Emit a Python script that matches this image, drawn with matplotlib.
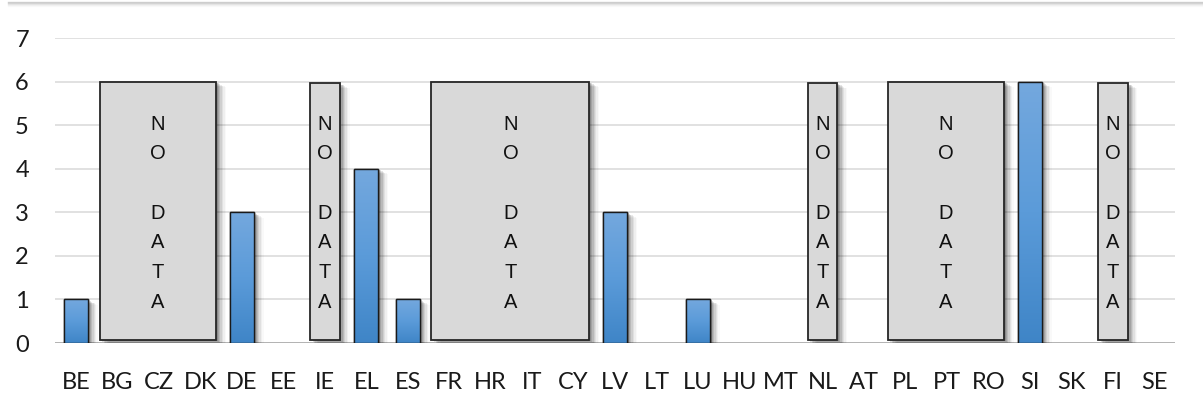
import numpy as np
import matplotlib
matplotlib.use("Agg")
import matplotlib.pyplot as plt
from matplotlib import patheffects as pe
from matplotlib.patches import Rectangle
from matplotlib.colors import LinearSegmentedColormap

categories = ["BE", "BG", "CZ", "DK", "DE", "EE", "IE", "EL", "ES", "FR", "HR", "IT", "CY",
              "LV", "LT", "LU", "HU", "MT", "NL", "AT", "PL", "PT", "RO", "SI", "SK", "FI", "SE"]
values = [1, 0, 0, 0, 3, 0, 0, 4, 1, 0, 0, 0, 0,
          3, 0, 1, 0, 0, 0, 0, 0, 0, 0, 6, 0, 0, 0]
# "NO DATA" annotation boxes: (first category, last category)
no_data_groups = [("BG", "DK"), ("IE", "IE"), ("FR", "CY"), ("NL", "NL"), ("PL", "RO"), ("FI", "FI")]
no_data_label = "N\nO\n\nD\nA\nT\nA"
yticks = [0, 1, 2, 3, 4, 5, 6, 7]

fig = plt.figure(figsize=(12.03, 4.03), dpi=100)
ax = fig.add_axes([55.3 / 1203, 60 / 403, (1175 - 55.3) / 1203, (343 - 38.3) / 403])

x = np.arange(len(categories))
ax.set_xlim(-0.5, len(categories) - 0.5)
ax.set_ylim(0, 7)

def shadow_effects(scale=1.0):
    effs = []
    for off, a in [(1, 0.14), (2, 0.12), (3, 0.10), (4, 0.08), (5, 0.06), (6, 0.04), (7, 0.025)]:
        effs.append(pe.SimplePatchShadow(offset=(off * scale, -off * 0.55 * scale),
                                         shadow_rgbFace="black", alpha=a))
    effs.append(pe.Normal())
    return effs

# grid
for t in yticks[1:]:
    ax.axhline(t, color="#d9d9d9", lw=1.1, zorder=0)
ax.axhline(0, color="#a6a6a6", lw=1.2, zorder=1)

# bars with gradient
cmap = LinearSegmentedColormap.from_list("blu", ["#3f85c7", "#5b9bd9", "#74a8de"])
grad = np.linspace(0, 1, 256).reshape(-1, 1)
bars = ax.bar(x, values, width=0.58, color="#5b9bd5", edgecolor="#1a1a1a", linewidth=1.0, zorder=3)
for b, v in zip(bars, values):
    if v <= 0:
        b.set_visible(False)
        continue
    b.set_path_effects(shadow_effects())
    x0, y0 = b.get_x(), b.get_y()
    w, h = b.get_width(), b.get_height()
    im = ax.imshow(grad, extent=[x0, x0 + w, y0, y0 + h], origin="lower", aspect="auto",
                   cmap=cmap, zorder=3.5, interpolation="bicubic")
    im.set_clip_path(b)
    edge = Rectangle((x0, y0), w, h, fill=False, edgecolor="#1a1a1a", lw=1.0, zorder=4)
    ax.add_patch(edge)

# NO DATA boxes
for first, last in no_data_groups:
    i0 = categories.index(first)
    i1 = categories.index(last)
    if i0 == i1:
        left, right = i0 - 0.36, i1 + 0.36
        top = 5.97
    else:
        left, right = i0 - 0.43, i1 + 0.38
        top = 6.0
    r = Rectangle((left, 0.06), right - left, top - 0.06, facecolor="#d9d9d9",
                  edgecolor="#262626", lw=1.3, zorder=5)
    r.set_path_effects(shadow_effects())
    ax.add_patch(r)
    ax.text((left + right) / 2, 2.98, no_data_label, ha="center", va="center",
            fontsize=14.5, family="Liberation Sans", color="#111111", linespacing=1.71, zorder=6)

ax.set_xticks(x)
ax.set_xticklabels(categories, fontsize=17, family="Lato", color="#1a1a1a")
ax.set_yticks(yticks)
ax.set_yticklabels([str(t) for t in yticks], fontsize=17, family="Lato", color="#1a1a1a")
ax.tick_params(axis="both", length=0)
ax.tick_params(axis="x", pad=21)
ax.tick_params(axis="y", pad=19)
for s in ax.spines.values():
    s.set_visible(False)

# top border line with soft shadow
for i, a in enumerate([0.35, 0.25, 0.15, 0.08, 0.04]):
    fig.add_artist(plt.Line2D([8 / 1203, 1], [1 - (2 + i) / 403] * 2, color="black",
                              alpha=a * 0.5, lw=1.0, transform=fig.transFigure))

fig.savefig("out.png", dpi=100)
